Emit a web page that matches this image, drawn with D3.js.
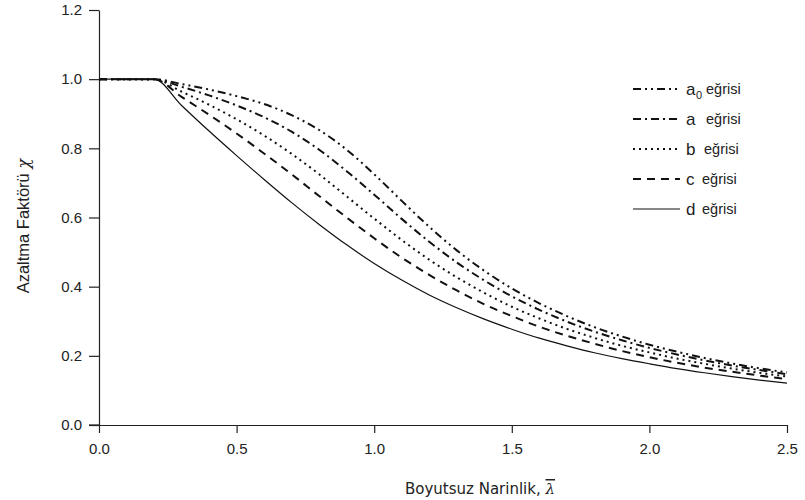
<!DOCTYPE html>
<html>
<head>
<meta charset="utf-8">
<script src="https://cdnjs.cloudflare.com/ajax/libs/d3/7.8.5/d3.min.js"></script>
<style>
  body { margin: 0; background: #fff; }
  text { font-family: "Liberation Sans", Arial, sans-serif; fill: #222; }
  .axis path, .axis line { stroke: #222; stroke-width: 1.2px; }
  .axis text { font-size: 15px; }
</style>
</head>
<body>
<script>
// slenderness values
const lambdas = [0, 0.2, 0.3, 0.4, 0.5, 0.6, 0.7, 0.8, 0.9, 1.0, 1.1, 1.2, 1.3, 1.4, 1.5,
                 1.6, 1.7, 1.8, 1.9, 2.0, 2.1, 2.2, 2.3, 2.4, 2.5]

const curveA0 = [1, 1, 0.986, 0.970, 0.951, 0.928, 0.896, 0.853, 0.796, 0.725, 0.648, 0.573, 0.505,
                 0.446, 0.395, 0.352, 0.315, 0.283, 0.256, 0.232, 0.212, 0.194, 0.178, 0.164, 0.152]
const curveA  = [1, 1, 0.978, 0.953, 0.924, 0.890, 0.848, 0.796, 0.734, 0.666, 0.596, 0.530, 0.470,
                 0.418, 0.372, 0.333, 0.299, 0.270, 0.245, 0.223, 0.204, 0.187, 0.172, 0.159, 0.147]
const curveB  = [1, 1, 0.964, 0.926, 0.884, 0.837, 0.784, 0.725, 0.661, 0.597, 0.535, 0.478, 0.427,
                 0.382, 0.342, 0.308, 0.278, 0.252, 0.229, 0.210, 0.192, 0.177, 0.163, 0.151, 0.140]
const curveC  = [1, 1, 0.949, 0.897, 0.843, 0.785, 0.725, 0.662, 0.600, 0.540, 0.484, 0.434, 0.389,
                 0.349, 0.315, 0.284, 0.258, 0.235, 0.214, 0.196, 0.180, 0.166, 0.154, 0.143, 0.133]
const curveD  = [1, 1, 0.924, 0.850, 0.779, 0.710, 0.643, 0.580, 0.521, 0.467, 0.419, 0.376, 0.339,
                 0.306, 0.277, 0.251, 0.229, 0.209, 0.192, 0.177, 0.163, 0.151, 0.140, 0.130, 0.121]

const curveNames = ['a', 'a', 'b', 'c', 'd']
const curveSubs  = ['0', '', '', '', '']
const xTicks = [0, 0.5, 1.0, 1.5, 2.0, 2.5]
const yTicks = [0, 0.2, 0.4, 0.6, 0.8, 1.0, 1.2]

const series = [curveA0, curveA, curveB, curveC, curveD]
const dashes = ['8,4,2,4,2,4', '8,4,2,4', '2,4', '8,6', null]
const widths = [2, 2, 2, 2, 1.2]

let width = 805, height = 500
let margin = { top: 10, right: 18, bottom: 75, left: 99 }

let x = d3.scaleLinear().domain([0, 2.5]).range([margin.left, width - margin.right])
let y = d3.scaleLinear().domain([0, 1.2]).range([height - margin.bottom, margin.top])

let svg = d3.select('body').append('svg')
    .attr('width', width)
    .attr('height', height)

svg.append('g')
    .attr('class', 'axis')
    .attr('transform', 'translate(0,' + y(0) + ')')
    .call(d3.axisBottom(x).tickValues(xTicks).tickFormat(d3.format('.1f')).tickSize(8).tickSizeOuter(0).tickPadding(10))

svg.append('g')
    .attr('class', 'axis')
    .attr('transform', 'translate(' + x(0) + ',0)')
    .call(d3.axisLeft(y).tickValues(yTicks).tickFormat(d3.format('.1f')).tickSize(10).tickSizeOuter(0).tickPadding(7))

// extend axis lines past the origin like the original
svg.append('line')
    .attr('x1', x(0) - 10).attr('x2', x(0))
    .attr('y1', y(0)).attr('y2', y(0))
    .attr('stroke', '#222').attr('stroke-width', 1.2)

let line = d3.line()
    .x((d, i) => x(lambdas[i]))
    .y(d => y(d))
    .curve(d3.curveMonotoneX)

series.forEach((s, i) => {
    svg.append('path')
        .datum(s)
        .attr('d', line)
        .attr('fill', 'none')
        .attr('stroke', '#111')
        .attr('stroke-width', widths[i])
        .attr('stroke-dasharray', dashes[i])
})

// legend
let legend = svg.append('g').attr('transform', 'translate(633,89)')
const textGap = [20, 20, 18, 16, 16]
curveNames.forEach((n, i) => {
    let row = legend.append('g').attr('transform', 'translate(0,' + (i * 30) + ')')
    row.append('line')
        .attr('x1', 0).attr('x2', 47)
        .attr('y1', 0).attr('y2', 0)
        .attr('stroke', '#111')
        .attr('stroke-width', widths[i])
        .attr('stroke-dasharray', dashes[i])
    let t = row.append('text')
        .attr('x', 53)
        .attr('y', 6)
        .style('font-size', '17px')
    t.text(n)
    if (curveSubs[i]) {
        row.append('text').attr('x', 63).attr('y', 10).style('font-size', '11px').text(curveSubs[i])
    }
    row.append('text')
        .attr('x', 53 + textGap[i])
        .attr('y', 5)
        .style('font-size', '14.5px')
        .text('eğrisi')
})

// axis titles
let xt = svg.append('text')
    .attr('x', 480)
    .attr('y', 494)
    .attr('text-anchor', 'middle')
    .style('font-family', '"DejaVu Sans", sans-serif')
    .style('font-size', '15px')
xt.append('tspan').text('Boyutsuz Narinlik, ')
xt.append('tspan').style('font-family', '"DejaVu Serif", serif').style('font-style', 'italic')
    .style('text-decoration', 'overline').text('λ')

let yt = svg.append('text')
    .attr('transform', 'translate(29,226) rotate(-90)')
    .attr('text-anchor', 'middle')
    .style('font-size', '16.5px')
yt.append('tspan').text('Azaltma Faktörü  ')
yt.append('tspan').style('font-family', '"DejaVu Serif", serif').style('font-style', 'italic').text('χ')
</script>
</body>
</html>
